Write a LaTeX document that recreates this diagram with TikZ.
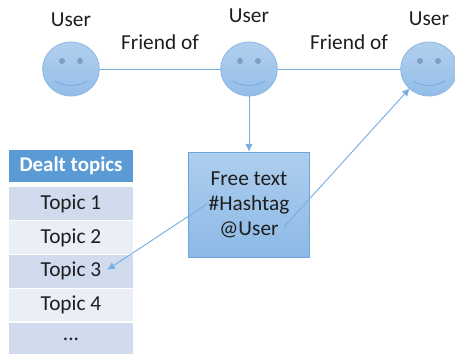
\documentclass[tikz,border=0pt]{standalone}
\usepackage{fontspec}
\setmainfont{Carlito}
\usepackage{tikz}
\usetikzlibrary{arrows.meta}
\usetikzlibrary{positioning, shapes.geometric}
\definecolor{lineblue}{HTML}{78ADE2}
\definecolor{edgeblue}{HTML}{6FA5DC}
\definecolor{headblue}{HTML}{5B9BD5}
\definecolor{rowdark}{HTML}{D0DBEE}
\definecolor{rowlight}{HTML}{E9EEF7}
\definecolor{eyeblue}{HTML}{7F9DC6}
\definecolor{inktext}{HTML}{1E1E1E}
\tikzset{
    user/.style={ellipse, draw=edgeblue!80, line width=0.6pt, top color=lineblue!58!white, bottom color=lineblue!80!white, minimum width=42.5pt, minimum height=40.5pt, inner sep=0pt},
    label/.style={text=inktext, font=\fontsize{16}{19}\selectfont, inner sep=0pt},
    head/.style={fill=headblue, text=white, font=\fontsize{15.7}{19}\selectfont\bfseries, minimum width=93pt, minimum height=24pt, inner sep=0pt},
    topic/.style={text=inktext, font=\fontsize{16}{19}\selectfont, minimum width=93pt, minimum height=24.5pt, inner sep=0pt},
    link/.style={draw=lineblue, line width=0.7pt},
    pointer/.style={link, -{Latex[length=6pt,width=5.5pt]}}
}
\begin{document}
\begin{tikzpicture}[x=0.75pt, y=-0.75pt]
    \useasboundingbox (0,0) rectangle (455,354);
    \node[user] (user1) at (71,69) {};
    \node[user] (user2) at (249,69) {};
    \node[user] (user3) at (429,69) {};
    % faces
    \foreach \u in {user1,user2,user3} {
        \fill[eyeblue] ([shift={(-9,-8)}]\u.center) circle (3);
        \fill[eyeblue] ([shift={(9,-8)}]\u.center) circle (3);
        \draw[lineblue, line width=0.7pt] ([shift={(-16,12)}]\u.center) .. controls ([shift={(-6,18)}]\u.center) and ([shift={(6,18)}]\u.center) .. ([shift={(16,12)}]\u.center);
    }
    \node[label, above=16.5pt of user1.north, anchor=center] (name1) {User};
    \node[label, above=19.5pt of user2.north, anchor=center] (name2) {User};
    \node[label, above=17pt of user3.north, anchor=center] (name3) {User};
    \node[label] (friend1) at (160,42) {Friend of};
    \node[label] (friend2) at (349,42) {Friend of};
    \node[rectangle, draw=edgeblue, line width=0.7pt, top color=lineblue!60!white, bottom color=lineblue!85!white, minimum width=91pt, minimum height=79pt, label, align=center, font=\fontsize{16}{19}\selectfont] (post) at (249,205) {Free text\\\#Hashtag\\@User};
    % table
    \node[head] (dealt) at (71,166) {Dealt topics};
    \node[topic, fill=rowdark, below=3.5pt of dealt] (topic1) {Topic 1};
    \node[topic, fill=rowlight, below=0.5pt of topic1] (topic2) {Topic 2};
    \node[topic, fill=rowdark, below=0.5pt of topic2] (topic3) {Topic 3};
    \node[topic, fill=rowlight, below=0.5pt of topic3] (topic4) {Topic 4};
    \node[topic, fill=rowdark, below=0.5pt of topic4] (topic5) {...};
    % links
    \coordinate (tagstart) at (207,204);
    \coordinate (tagend) at (107,270);
    \coordinate (atstart) at (284,227);
    \coordinate (atend) at (410,88);
    \draw[link] (user1) -- (user2);
    \draw[link] (user2) -- (user3);
    \draw[pointer] (user2) -- (post);
    \draw[pointer] (tagstart) -- (tagend);
    \draw[pointer] (atstart) -- (atend);
\end{tikzpicture}
\end{document}
